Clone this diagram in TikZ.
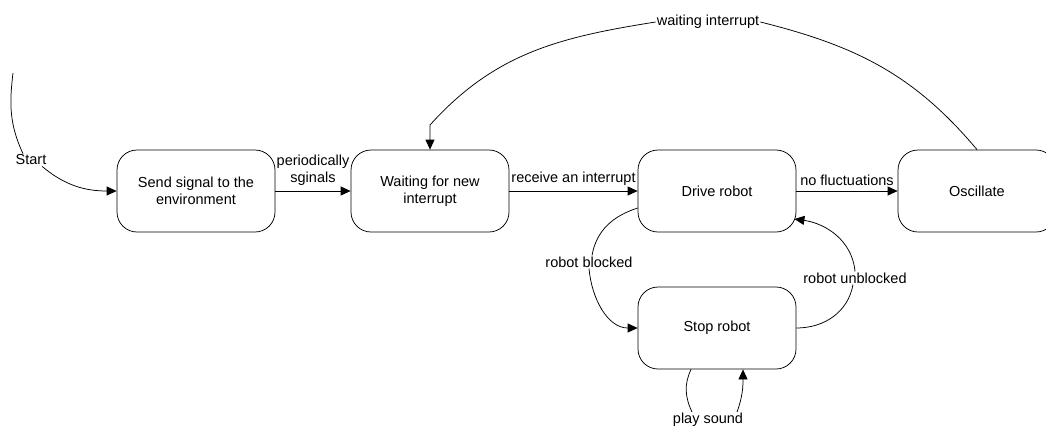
\documentclass[tikz,border=0pt]{standalone}
\usepackage{fontspec}
\setmainfont{Liberation Sans}
\usetikzlibrary{arrows.meta}
\tikzset{
  txt/.style={font=\fontsize{14.5}{17.5}\selectfont},
  state/.style={txt, draw, line width=0.75pt, rounded corners=20pt,
    minimum width=158pt, minimum height=82pt, align=center, inner sep=2pt},
  lbl/.style={txt, inner sep=1pt, align=center},
  link/.style={line width=0.75pt},
  arr/.style={link, -{Triangle[length=10pt,width=9pt]}}
}
\begin{document}
\begin{tikzpicture}[x=1pt,y=-1pt]
\useasboundingbox (0,0) rectangle (1046,429);

% states
\node[state] (send)  at (196,191) {Send signal to the\\environment};
\node[state] (wait)  at (430,191) {Waiting for new\\interrupt};
\node[state] (drive) at (717,191) {Drive robot};
\node[state] (osc)   at (977,191) {Oscillate};
\node[state] (stop)  at (717,328) {Stop robot};

% start transition
\coordinate (s0) at (13,73);
\node[lbl] (lstart) at (31,160) {Start};
\draw[link] (s0) to[out=-97, in=115] ([xshift=-8pt]lstart.north);
\draw[arr] ([xshift=11pt]lstart.south) to[out=-40, in=180] (send.west);

% straight transitions
\draw[arr] (send) -- node[lbl, above=4pt] {periodically\\sginals} (wait);
\draw[arr] (wait) -- node[lbl, above=4pt] {receive an interrupt} (drive);
\draw[arr] (drive) -- node[lbl, above=4pt] {no fluctuations} (osc);

% oscillate back to waiting
\node[lbl] (lwait) at (708,22) {waiting interrupt};
\coordinate (bend) at (430,125);
\draw[link] (osc.north) to[out=130, in=-14] (lwait.east);
\draw[arr] (lwait.west) to[out=189, in=48] (bend) -- (wait.north);

% drive <-> stop
\node[lbl] (lblk) at (589,262) {robot blocked};
\draw[link] ([yshift=-17pt]drive.west) to[out=198, in=80] ([xshift=3pt]lblk.north);
\draw[arr] (lblk.south) to[out=-85, in=180] (stop.west);

\node[lbl] (lunb) at (855,278) {robot unblocked};
\draw[link] (stop.east) to[out=0, in=-100] ([xshift=-2pt]lunb.south);
\draw[arr] (lunb.north) to[out=95, in=-8] ([xshift=-2pt,yshift=-28pt]drive.east);

% self loop on stop
\node[lbl] (lplay) at (708,420) {play sound};
\draw[link] ([xshift=-26pt]stop.south) to[out=-115, in=115] ([xshift=-16pt]lplay.north);
\draw[arr] ([xshift=29pt]lplay.north) to[out=70, in=-90] ([xshift=26pt]stop.south);
\end{tikzpicture}
\end{document}
